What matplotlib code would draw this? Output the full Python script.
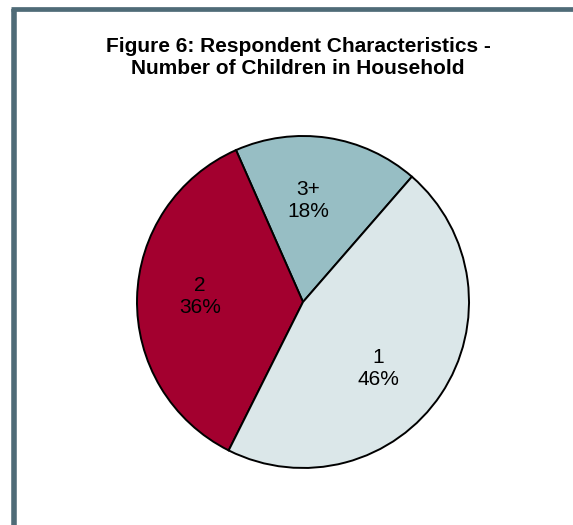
import matplotlib
matplotlib.use("Agg")
import matplotlib.pyplot as plt
from matplotlib.lines import Line2D

# data
categories = ['3+', '2', '1']
shares = [18, 36, 46]
slice_colors = ['#97bec4', '#a3002f', '#dbe7e9']

plt.rcParams['font.family'] = ['Liberation Sans', 'DejaVu Sans']

fig = plt.figure(figsize=(5.73, 5.25), dpi=100)
fig.patch.set_facecolor('white')

# frame lines (left and top) of the original box
border = '#4f6b77'
fig.add_artist(Line2D([13.5 / 573, 13.5 / 573], [0, 1 - 9 / 525], transform=fig.transFigure,
                      color=border, linewidth=4, solid_capstyle='butt'))
fig.add_artist(Line2D([11 / 573, 1], [1 - 9 / 525, 1 - 9 / 525], transform=fig.transFigure,
                      color=border, linewidth=3.4, solid_capstyle='butt'))

fig.text(0.52, 0.8905, 'Figure 6: Respondent Characteristics -\nNumber of Children in Household',
         ha='center', va='center', fontsize=15, fontweight='bold', linespacing=1.2)

ax = fig.add_axes([0.2391, 0.1086, 0.5794, 0.6324])
labels_iter = iter(categories)


def fmt(pct):
    return f"{next(labels_iter)}\n{pct:.0f}%"


wedges, texts, autotexts = ax.pie(shares, colors=slice_colors, startangle=49, counterclock=True,
                                  wedgeprops=dict(edgecolor='black', linewidth=1.4),
                                  autopct=fmt, pctdistance=0.62,
                                  textprops=dict(fontsize=15, color='black', linespacing=1.2))

# nudge labels a little, like the original layout
nudges = [(-0.06, 0.0), (0.0, 0.02), (-0.06, -0.055)]
for t, (dx, dy) in zip(autotexts, nudges):
    x, y = t.get_position()
    t.set_position((x + dx, y + dy))

ax.set_aspect('equal')
ax.set_xlim(-1.0, 1.0)
ax.set_ylim(-1.0, 1.0)

fig.savefig('out.png', dpi=100, facecolor='white')
